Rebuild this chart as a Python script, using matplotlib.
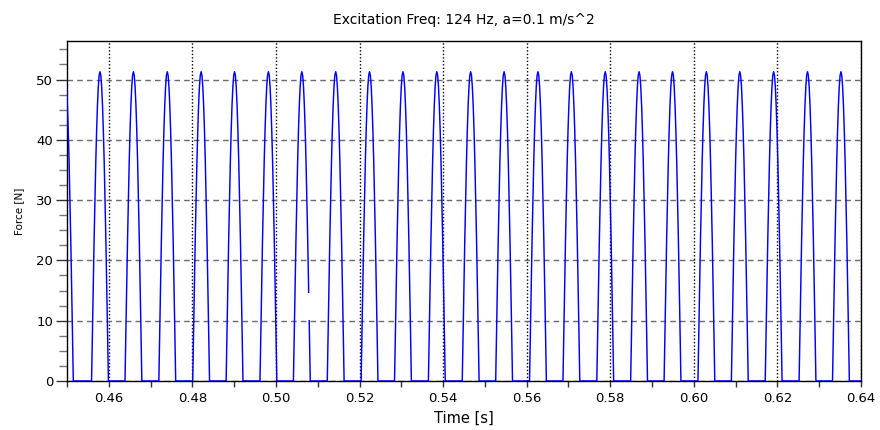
import numpy as np
import matplotlib.pyplot as plt
from matplotlib.ticker import MultipleLocator

# peak times of each contact pulse [s] (first one is cut by the left axis edge)
peak_times = [0.4495, 0.4579, 0.4659, 0.4740, 0.4821, 0.4901, 0.4982, 0.5062,
              0.5143, 0.5224, 0.5304, 0.5385, 0.5466, 0.5546, 0.5627, 0.5707,
              0.5788, 0.5869, 0.5949, 0.6030, 0.6110, 0.6191, 0.6272, 0.6352]
pulse_width = 0.00403  # duration of one pulse [s]

# shape of one pulse (fraction of pulse width -> force [N])
shape_frac = [0.00, 0.05, 0.10, 0.15, 0.20, 0.25, 0.30, 0.35, 0.40, 0.45, 0.50,
              0.55, 0.60, 0.65, 0.70, 0.75, 0.80, 0.85, 0.90, 0.95, 1.00]
shape_vals = [0.0, 8.0, 15.9, 23.3, 30.2, 36.3, 41.5, 45.7, 48.8, 50.7, 51.3,
              50.7, 48.8, 45.7, 41.5, 36.3, 30.2, 23.3, 15.9, 8.0, 0.0]

# dropout on the falling edge of one pulse
gap_peak = 0.5062
gap_frac = [0.907, 0.922, 0.938]
gap_vals = [14.7, np.nan, 10.0]

t_end = 0.64

# build the series
t_all, f_all = [], []
for pk in peak_times:
    fr = list(shape_frac)
    vals = list(shape_vals)
    if pk == gap_peak:
        keep = [(f, v) for f, v in zip(fr, vals) if f < 0.9 or f > 0.94]
        pts = sorted(keep + list(zip(gap_frac, gap_vals)), key=lambda p: p[0])
        fr = [p[0] for p in pts]
        vals = [p[1] for p in pts]
    t_all += [pk - pulse_width / 2 + f * pulse_width for f in fr]
    f_all += vals
t_all.append(t_end)
f_all.append(0.0)
t_all = np.array(t_all)
f_all = np.array(f_all)

fig = plt.figure(figsize=(8.8, 4.3), dpi=100)
ax = fig.add_axes([0.0761, 0.114, 0.9023, 0.7907])

ax.plot(t_all, f_all, color='#0000ff', lw=1.05, zorder=3)

ax.set_xlim(0.45, 0.64)
ax.set_ylim(0, 56.4)

ax.xaxis.set_major_locator(MultipleLocator(0.02))
ax.xaxis.set_minor_locator(MultipleLocator(0.01))
ax.yaxis.set_major_locator(MultipleLocator(10))
ax.yaxis.set_minor_locator(MultipleLocator(2.5))
ax.xaxis.set_major_formatter(plt.FuncFormatter(lambda v, p: f"{v:.2f}"))

ax.xaxis.grid(True, which='major', color='black', ls=(0, (1, 1.5)), lw=1.0)
ax.yaxis.grid(True, which='major', color='#6a6a6a', ls=(0, (4, 3)), lw=1.0)

ax.tick_params(axis='y', which='major', length=8, width=1, color='#333333',
               labelsize=9.5, pad=2)
ax.tick_params(axis='y', which='minor', length=6, width=1, color='#777777')
ax.tick_params(axis='x', which='major', length=4, width=1, color='#333333',
               labelsize=9.5, pad=4)
ax.tick_params(axis='x', which='minor', length=4, width=1, color='#333333')

for s in ax.spines.values():
    s.set_color('black')
    s.set_linewidth(1.0)

ax.set_title("Excitation Freq: 124 Hz, a=0.1 m/s^2", fontsize=10, pad=12)
ax.set_xlabel("Time [s]", fontsize=10.5, labelpad=4)
ax.set_ylabel("Force [N]", fontsize=7.5, labelpad=9)

fig.savefig("out.png", dpi=100)
